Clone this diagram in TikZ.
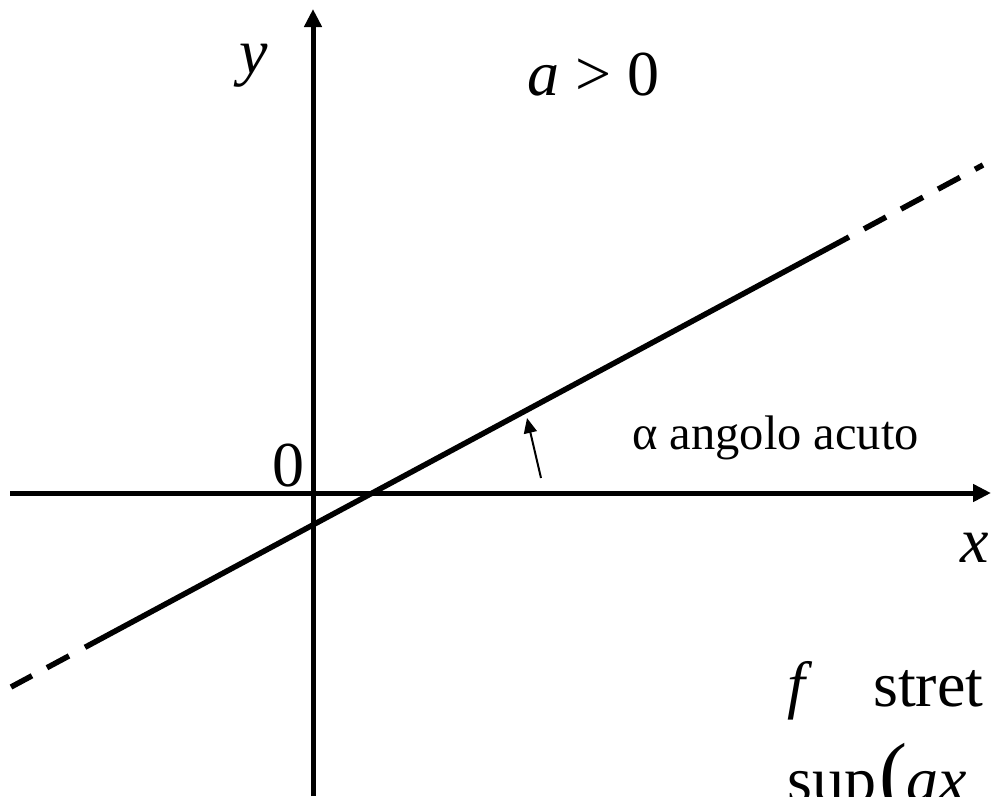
\documentclass[tikz,border=0pt]{standalone}
\usepackage{fontspec}
\setmainfont{Liberation Serif}
\usetikzlibrary{arrows.meta}
\begin{document}
\begin{tikzpicture}[x=1pt,y=-1pt,
  axis/.style={line width=5pt,-{Triangle[length=18pt,width=17pt]}},
  graphline/.style={line width=5.5pt},
  dashgraph/.style={line width=5.5pt,dash pattern=on 25pt off 17pt},
  lbl/.style={inner sep=0pt,font=\fontsize{64}{70}\selectfont},
  smalllbl/.style={inner sep=0pt,font=\fontsize{48.5}{52}\selectfont}]
\path[use as bounding box] (0,0) rectangle (992,796);
\clip (0,0) rectangle (992,796);
\coordinate (xs) at (10,493);
\coordinate (xe) at (991,493);
\coordinate (ys) at (313,796);
\coordinate (ye) at (313,9);
\draw[axis] (xs) -- (xe);
\draw[axis] (ys) -- (ye);
\coordinate (L0) at (11,687);
\coordinate (L1) at (69,655.9);
\coordinate (L2) at (85,647.3);
\coordinate (L3) at (849,237.0);
\coordinate (L4) at (864,228.9);
\coordinate (L5) at (983,165.0);
\draw[graphline] (L2) -- (L3);
\draw[dashgraph] (L1) -- (L0);
\draw[dashgraph] (L4) -- (L5);
\coordinate (ta) at (541,478);
\coordinate (tb) at (527,418);
\draw[line width=2pt,-{Triangle[length=15pt,width=13pt]}] (ta) -- (tb);
\node[lbl,anchor=base] (ylab) at (254,73) {\itshape y};
\node[lbl,anchor=base west] (apos) at (527,95) {\textit{a} > 0};
\node[lbl,anchor=base] (zero) at (288,486) {0};
\node[lbl,anchor=base] (xlab) at (975,562) {\itshape x};
\node[smalllbl,anchor=base west] (alpha) at (632,449) {α angolo acuto};
\node[lbl,anchor=base west] (f) at (787,706) {\itshape f};
\node[lbl,anchor=base west] (stret) at (873,706) {stret};
\node[lbl,anchor=base west] (sup) at (787,801) {sup};
\node[lbl,anchor=base west,font=\fontsize{84}{84}\selectfont] (paren) at (879,801) {(};
\node[lbl,anchor=base west] (ax) at (906,801) {\itshape ax};
\end{tikzpicture}
\end{document}
